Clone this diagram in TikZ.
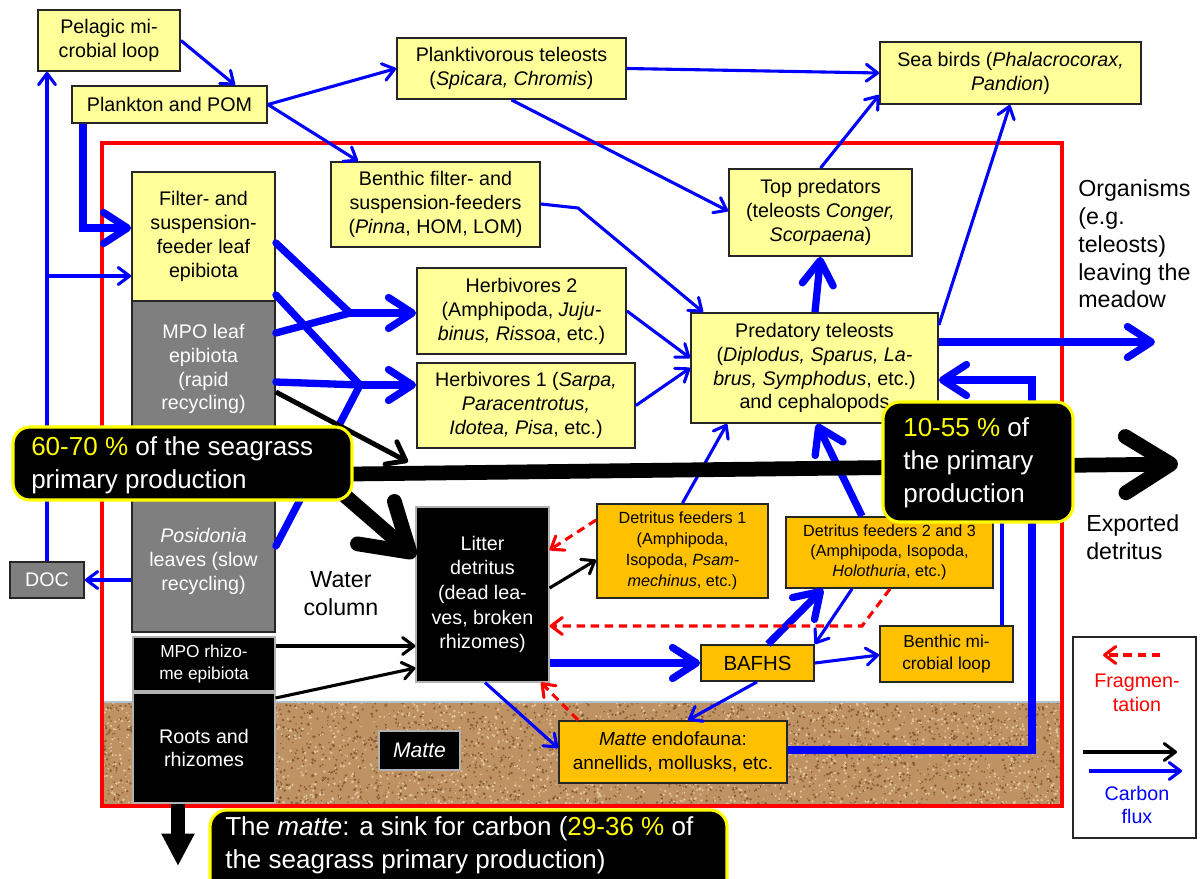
\documentclass[tikz,border=0pt]{standalone}
\usepackage{fontspec}
\setmainfont{Liberation Sans}
\usetikzlibrary{arrows.meta,fit,calc}
\definecolor{yfill}{HTML}{FFFF99}
\definecolor{ofill}{HTML}{FFC000}
\definecolor{gfill}{HTML}{7F7F7F}
\definecolor{cblue}{HTML}{0000FF}
\definecolor{cred}{HTML}{FF0000}
\definecolor{cyel}{HTML}{FFFF00}
\definecolor{sandbase}{HTML}{BE9262}
\definecolor{sanddark}{HTML}{7E532C}
\definecolor{sandlight}{HTML}{E6CCA4}
\definecolor{boxline}{HTML}{262626}
\definecolor{sealine}{HTML}{AFC0D0}
\newcommand\fsMain{\fontsize{14}{17}\selectfont}
\newcommand\fsSmall{\fontsize{11.5}{14.4}\selectfont}
\newcommand\fsMid{\fontsize{12.3}{15.4}\selectfont}
\newcommand\fsLarge{\fontsize{16.5}{19.8}\selectfont}
\newcommand\fsBig{\fontsize{18.5}{23.3}\selectfont}
\begin{document}
\begin{tikzpicture}[x=0.025cm,y=-0.025cm,
  box/.style={draw=boxline,line width=1.3pt,inner sep=0pt},
  ybox/.style={box,fill=yfill},
  obox/.style={box,fill=ofill},
  gbox/.style={box,fill=gfill},
  kbox/.style={draw=gray!60,line width=0.8pt,fill=black,inner sep=0pt},
  txt/.style={inner sep=0pt,align=center,font=\fsMain},
  wtxt/.style={txt,text=white},
  stxt/.style={txt,font=\fsSmall},
  callout/.style={fill=black,draw=cyel,line width=2.2pt,rounded corners=12pt,inner sep=0pt},
  calltext/.style={text=white,align=left,font=\fsBig,inner sep=0pt,anchor=west},
  freetext/.style={inner sep=0pt,font=\fsLarge},
  cf/.style={draw=cblue,line width=2.2pt,-{Straight Barb[length=8pt,width=12pt,round]}},
  cfk/.style={draw=cblue,line width=5.2pt,-{Straight Barb[length=17pt,width=22pt,round]}},
  cfkline/.style={draw=cblue,line width=5.2pt,line cap=round},
  cfline/.style={draw=cblue,line width=2.2pt},
  kf/.style={draw=black,line width=2.2pt,-{Straight Barb[length=8pt,width=12pt,round]}},
  kfm/.style={draw=black,line width=3.5pt,-{Straight Barb[length=12pt,width=18pt,round]}},
  kfk/.style={draw=black,line width=10.5pt,-{Straight Barb[length=32pt,width=40pt,round]}},
  frag/.style={draw=cred,line width=2.2pt,dash pattern=on 6pt off 4pt,-{Straight Barb[length=8pt,width=12pt,round]}}
]
\useasboundingbox (0,0) rectangle (1201,879);

% ---- matte (sediment) ----
\fill[sandbase] (102,702) rectangle (1062,806);
\begin{scope}
  \clip (102,702) rectangle (1062,806);
  \pgfmathsetseed{42}
  \foreach \i in {1,...,2600}{%
    \pgfmathsetmacro\rx{102+960*rnd}\pgfmathsetmacro\ry{702+104*rnd}\pgfmathsetmacro\rr{0.5+0.6*rnd}%
    \fill[sanddark,opacity=0.8] (\rx,\ry) circle (\rr pt);}
  \foreach \i in {1,...,2000}{%
    \pgfmathsetmacro\rx{102+960*rnd}\pgfmathsetmacro\ry{702+104*rnd}\pgfmathsetmacro\rr{0.5+0.6*rnd}%
    \fill[sandlight,opacity=0.85] (\rx,\ry) circle (\rr pt);}
\end{scope}
\draw[sealine,line width=1.4pt] (102,702) -- (1062,702);
\draw[cred,line width=2.2pt] (102,143) rectangle (1062,806);

% ---- boxes (frames) ----
\node[ybox,fit={(38,10)(180,71)}] (pel) {};
\node[ybox,fit={(72,86)(267,123)}] (plk) {};
\node[ybox,fit={(397,38)(626,99)}] (pte) {};
\node[ybox,fit={(880,42)(1141,104)}] (sbd) {};
\node[ybox,fit={(331,162)(540,247)}] (bfs) {};
\node[ybox,fit={(729,169)(912,256)}] (top) {};
\node[ybox,fit={(132,172)(275,301)}] (fse) {};
\fill[gfill] (132,430) rectangle (275,495);
\node[gbox,fit={(132,301)(275,437)}] (mpo) {};
\node[gbox,fit={(132,490)(275,632)}] (pos) {};
\node[gbox,fit={(10,562)(84,598)}] (doc) {};
\node[kbox,fit={(133,637)(275,691)}] (rhz) {};
\node[kbox,fit={(133,693)(275,803)}] (roots) {};
\node[kbox,fit={(416,507)(549,682)}] (litter) {};
\node[kbox,fit={(379,731)(460,770)}] (matte) {};
\node[ybox,fit={(417,268)(626,354)}] (herb2) {};
\node[ybox,fit={(417,363)(635,448)}] (herb1) {};
\node[ybox,fit={(691,313)(938,423)}] (pred) {};
\node[obox,fit={(597,504)(768,598)}] (df1) {};
\node[obox,fit={(786,517)(993,588)}] (df23) {};
\node[obox,fit={(701,645)(814,681)}] (bafhs) {};
\node[obox,fit={(880,626)(1013,682)}] (bml) {};
\node[obox,fit={(559,721)(787,783)}] (mend) {};

% ---- box texts ----
\node[txt] (pel-t) at (pel.center) {Pelagic mi-\\crobial loop};
\node[txt] (plk-t) at (plk.center) {Plankton and POM};
\node[txt] (pte-t) at (pte.center) {Planktivorous teleosts\\(\textit{Spicara, Chromis})};
\node[txt] (sbd-t) at (sbd.center) {Sea birds (\textit{Phalacrocorax,}\\\textit{Pandion})};
\node[txt] (bfs-t) at (bfs.center) {Benthic filter- and\\suspension-feeders\\(\textit{Pinna}, HOM, LOM)};
\node[txt] (top-t) at (top.center) {Top predators\\(teleosts \textit{Conger,}\\\textit{Scorpaena})};
\node[txt] (fse-t) at (fse.center) {Filter- and\\suspension-\\feeder leaf\\epibiota};
\node[wtxt] (mpo-t) at (mpo.center) {MPO leaf\\epibiota\\(rapid\\recycling)};
\node[wtxt] (pos-t) at (pos.center) {\textit{Posidonia}\\leaves (slow\\recycling)};
\node[wtxt] (doc-t) at (doc.center) {DOC};
\node[wtxt,font=\fsMid] (rhz-t) at (rhz.center) {MPO rhizo-\\me epibiota};
\node[wtxt] (roots-t) at (roots.center) {Roots and\\rhizomes};
\node[wtxt,font=\fontsize{14}{17.5}\selectfont] (litter-t) at (litter.center) {Litter\\detritus\\(dead lea-\\ves, broken\\rhizomes)};
\node[wtxt,font=\fontsize{15}{18}\selectfont] (matte-t) at (matte.center) {\textit{Matte}};
\node[txt] (herb2-t) at (herb2.center) {Herbivores 2\\(Amphipoda, \textit{Juju-}\\\textit{binus, Rissoa}, etc.)};
\node[txt] (herb1-t) at (herb1.center) {Herbivores 1 (\textit{Sarpa,}\\\textit{Paracentrotus,}\\\textit{Idotea, Pisa}, etc.)};
\node[txt] (pred-t) at (pred.center) {Predatory teleosts\\(\textit{Diplodus, Sparus, La-}\\\textit{brus, Symphodus}, etc.)\\and cephalopods};
\node[stxt,font=\fontsize{11.5}{14.9}\selectfont] (df1-t) at (df1.center) {Detritus feeders 1\\(Amphipoda,\\Isopoda, \textit{Psam-}\\\textit{mechinus}, etc.)};
\node[stxt] (df23-t) at (df23.center) {Detritus feeders 2 and 3\\(Amphipoda, Isopoda,\\\textit{Holothuria}, etc.)};
\node[txt,font=\fontsize{14.5}{17}\selectfont] (bafhs-t) at (bafhs.center) {BAFHS};
\node[txt,font=\fsMid] (bml-t) at (bml.center) {Benthic mi-\\crobial loop};
\node[txt,font=\fontsize{13.5}{17}\selectfont] (mend-t) at (mend.center) {\textit{Matte} endofauna:\\annellids, mollusks, etc.};

% ---- free texts ----
\node[freetext,align=left,anchor=west] (orgtxt) at (1078,244) {Organisms\\(e.g.\\teleosts)\\leaving the\\meadow};
\node[freetext,align=left,anchor=west] (exptxt) at (1086,537) {Exported\\detritus};
\node[freetext,align=center] (water) at (341,594) {Water\\column};

% ---- free ends ----
\coordinate (org) at (1155,342);
\coordinate (exp) at (1178,464);
\coordinate (jb) at (408,462);
\coordinate (j1) at (350,313);
\coordinate (j2) at (360,385);
\coordinate (bmltop) at (1002,470);
\coordinate (sink) at (178,866);

% ---- carbon flux (thin blue) ----
\draw[cf] (pel.east) -- (plk.north -| 235,0);
\draw[cf] (plk.east) -- (pte.west);
\draw[cf] (plk.east) -- (bfs.north -| 358,0);
\draw[cf] (pte.east) -- (sbd.west);
\draw[cf] (pte.south) -- (top.west |- 0,211);
\draw[cf] (top.north) -- (sbd.west |- 0,95);
\draw[cf] (pred.east |- 0,325) -- (sbd.south -| 1010,0);
\draw[cf] (doc.north) -- (doc.north |- pel.south);
\draw[cf] (doc.north |- 0,276) -- (fse.west |- 0,276);
\draw[cf] (pos.west |- doc.east) -- (doc.east);
\draw[cf] (bfs.east |- 0,204) -- (578,208) -- (pred.north -| 703,0);
\draw[cf] (herb2.east) -- (pred.west |- 0,358);
\draw[cf] (herb1.east) -- (pred.west |- 0,368);
\draw[cf] (df1.north) -- (pred.south -| 727,0);
\draw[cf] (litter.south -| 485,0) -- (mend.west |- 0,748);
\draw[cf] (df23.south -| 852,0) -- (bafhs.north east);
\draw[cf] (bafhs.east) -- (bml.west |- 0,655);
\draw[cf] (bafhs.south -| 757,0) -- (mend.north -| 688,0);
\draw[cfline] (bml.north -| 1002,0) -- (bmltop);

% ---- carbon flux (thick blue) ----
\draw[cfk,line join=miter] (plk.south -| 83,0) |- (fse.west |- 0,228);
\draw[cfkline] (fse.east |- 0,243) -- (j1);
\draw[cfkline] (mpo.east |- 0,333) -- (j1);
\draw[cfk] (j1) -- (herb2.west |- 0,313);
\draw[cfkline] (fse.east |- 0,295) -- (j2);
\draw[cfkline] (mpo.east |- 0,382) -- (j2);
\draw[cfkline] (pos.east |- 0,546) -- (j2);
\draw[cfk] (j2) -- (herb1.west |- 0,385);
\draw[cfk] (pred.north -| 815,0) -- (top.south);
\draw[cfk] (pred.east |- 0,342) -- (org);
\draw[cfk] (df23.north -| 862,0) -- (pred.south -| 817,0);
\draw[cfk,line join=miter] (mend.east |- 0,750) -| (1032,380) -- (pred.east |- 0,380);
\draw[cfk] (litter.east |- bafhs.west) -- (bafhs.west);
\draw[cfk] (bafhs.north -| 768,0) -- (df23.south -| 823,0);

% ---- black flows ----
\draw[kf] (litter.east |- 0,588) -- (df1.west |- 0,560);
\draw[kf] (rhz.east |- 0,646) -- (litter.west |- 0,646);
\draw[kf] (roots.east |- 0,698) -- (litter.west |- 0,668);
\draw[kfm] (mpo.east |- 0,392) -- (jb);
\draw[kfk] (343,494) -- (litter.west |- 0,557);
\draw[kfk] (352,474) -- (exp);
\draw[draw=black,line width=10.5pt,-{Triangle[length=23pt,width=22pt]}] (roots.south -| 178,0) -- (sink);

% ---- fragmentation ----
\draw[frag] (df1.west |- 0,520) -- (litter.east |- 0,550);
\draw[frag] (df23.south -| 890,0) -- (862,626) -- (litter.east |- 0,626);
\draw[frag] (mend.north -| 578,0) -- (litter.south -| 541,0);

% ---- callouts ----
\node[callout,fit={(13,427)(352,500)}] (callA) {};
\node[calltext] (tA) at (31,465) {{\color{cyel}60-70 \%} of the seagrass\\primary production};
\node[callout,fit={(883,402)(1073,522)}] (callB) {};
\node[calltext] (tB) at (903,463) {{\color{cyel}10-55 \%} of\\the primary\\production};
\begin{scope}
  \clip (0,0) rectangle (1201,879);
  \node[callout,fit={(210,810)(727,900)}] (callC) {};
  \node[calltext] (tC) at (225,845) {The \textit{matte}: a sink for carbon ({\color{cyel}29-36 \%} of\\the seagrass primary production)};
\end{scope}

% ---- legend ----
\node[draw=boxline,line width=1.3pt,fill=white,inner sep=0pt,fit={(1073,637)(1196,838)}] (leg) {};
\coordinate (lr1) at (1160,655);
\coordinate (lr2) at (1103,655);
\draw[frag] (lr1) -- (lr2);
\node[text=cred,font=\fsMain,align=center,inner sep=0pt] (lfrag) at (1137,693) {Fragmen-\\tation};
\coordinate (lk1) at (1083,752);
\coordinate (lk2) at (1177,752);
\draw[kf] (lk1) -- (lk2);
\coordinate (lb1) at (1089,771);
\coordinate (lb2) at (1182,771);
\draw[cf] (lb1) -- (lb2);
\node[text=cblue,font=\fsMain,align=center,inner sep=0pt] (lcarb) at (1137,805) {Carbon\\flux};
\end{tikzpicture}
\end{document}
